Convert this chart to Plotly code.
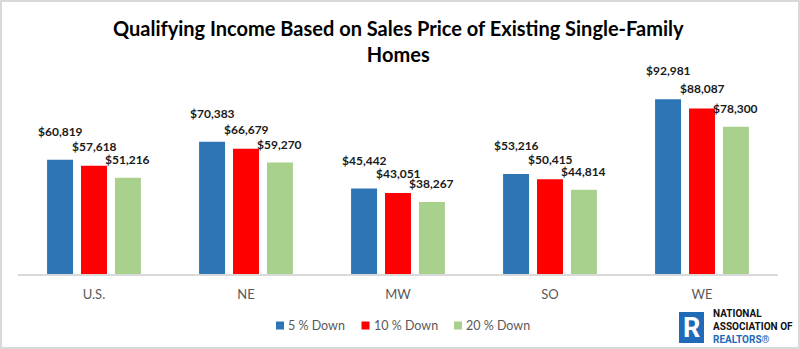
import plotly.graph_objects as go

categories = ["U.S.", "NE", "MW", "SO", "WE"]
series_names = ["5 % Down", "10 % Down", "20 % Down"]
down5 = [60819, 70383, 45442, 53216, 92981]
down10 = [57618, 66679, 43051, 50415, 88087]
down20 = [51216, 59270, 38267, 44814, 78300]
colors = ["#2E75B6", "#FF0000", "#A9D18E"]

W, H = 800, 349
L, R, T, B = 18, 22, 86, 75
plot_w = W - L - R
plot_h = H - T - B
bargap = 0.33
slot = plot_w / len(categories) * (1 - bargap) / 3
label_yshift = [19, 10, 9]
legend_px = [280, 365.5, 458]   # legend swatch centres (pixels)
legend_py = 325.5

def px_x(px):
    return (px - L) / plot_w

def px_y(py):
    return (H - B - py) / plot_h

fig = go.Figure()
all_vals = [down5, down10, down20]
for name, vals, col in zip(series_names, all_vals, colors):
    fig.add_trace(go.Bar(x=categories, y=vals, name=name, marker_color=col,
                         marker_line_width=0, hoverinfo="skip", showlegend=False))

annotations = []
shapes = []
for i, vals in enumerate(all_vals):
    for c, v in zip(categories, vals):
        annotations.append(dict(
            x=c, y=v, xref="x", yref="y", text=f"${v:,}", showarrow=False,
            xshift=(i - 1) * slot, yshift=label_yshift[i], yanchor="bottom",
            font=dict(family="Lato", size=12, color="#1a1a1a", weight="bold")))

# Legend (manual, for tight Excel-like spacing)
for name, col, lx in zip(series_names, colors, legend_px):
    shapes.append(dict(type="rect", xref="paper", yref="paper",
                       x0=px_x(lx - 4), x1=px_x(lx + 4),
                       y0=px_y(legend_py + 4), y1=px_y(legend_py - 4),
                       fillcolor=col, line=dict(width=0)))
    annotations.append(dict(
        x=px_x(lx + 6), y=px_y(legend_py), xref="paper", yref="paper",
        xanchor="left", yanchor="middle", showarrow=False, text=name,
        font=dict(family="Lato", size=12.5, color="#595959")))

# Title
annotations.append(dict(
    x=0.5, y=px_y(40.5), xref="paper", yref="paper", xanchor="center", yanchor="middle",
    showarrow=False,
    text="<b>Qualifying Income Based on Sales Price of Existing Single-Family<br>Homes</b>",
    font=dict(family="Lato", size=20, color="#000000")))

# NAR logo text
annotations.append(dict(
    x=px_x(711), y=px_y(326), xref="paper", yref="paper", xanchor="left", yanchor="middle",
    showarrow=False, align="left",
    text="<b>NATIONAL<br>ASSOCIATION OF<br><span style='color:#1f6bb8'>REALTORS®</span></b>",
    font=dict(family="Roboto", size=10, color="#111111")))
annotations.append(dict(
    x=px_x(691.5), y=px_y(327.5), xref="paper", yref="paper", xanchor="center", yanchor="middle",
    showarrow=False, text="<b>R</b>", font=dict(family="Roboto", size=27, color="white")))

shapes += [
    dict(type="rect", xref="paper", yref="paper", x0=px_x(679), x1=px_x(704),
         y0=px_y(343), y1=px_y(312), fillcolor="#1f6bb8", line=dict(width=0), layer="above"),
    dict(type="rect", xref="paper", yref="paper", x0=px_x(1), x1=px_x(799),
         y0=px_y(348), y1=px_y(1), line=dict(color="#d9d9d9", width=2), fillcolor="rgba(0,0,0,0)"),
]

fig.update_layout(
    width=W, height=H,
    margin=dict(l=L, r=R, t=T, b=B),
    paper_bgcolor="white", plot_bgcolor="white",
    barmode="group", bargap=bargap, bargroupgap=0.235,
    xaxis=dict(showline=True, linecolor="#d9d9d9", linewidth=1.5, ticks="",
               tickfont=dict(family="Lato", size=13, color="#595959"),
               ticklabelstandoff=8, showgrid=False, fixedrange=True),
    yaxis=dict(range=[0, 100000], visible=False, showgrid=False, fixedrange=True),
    showlegend=False,
    annotations=annotations,
    shapes=shapes,
)

fig.write_html("out.html", config={"displayModeBar": False})
